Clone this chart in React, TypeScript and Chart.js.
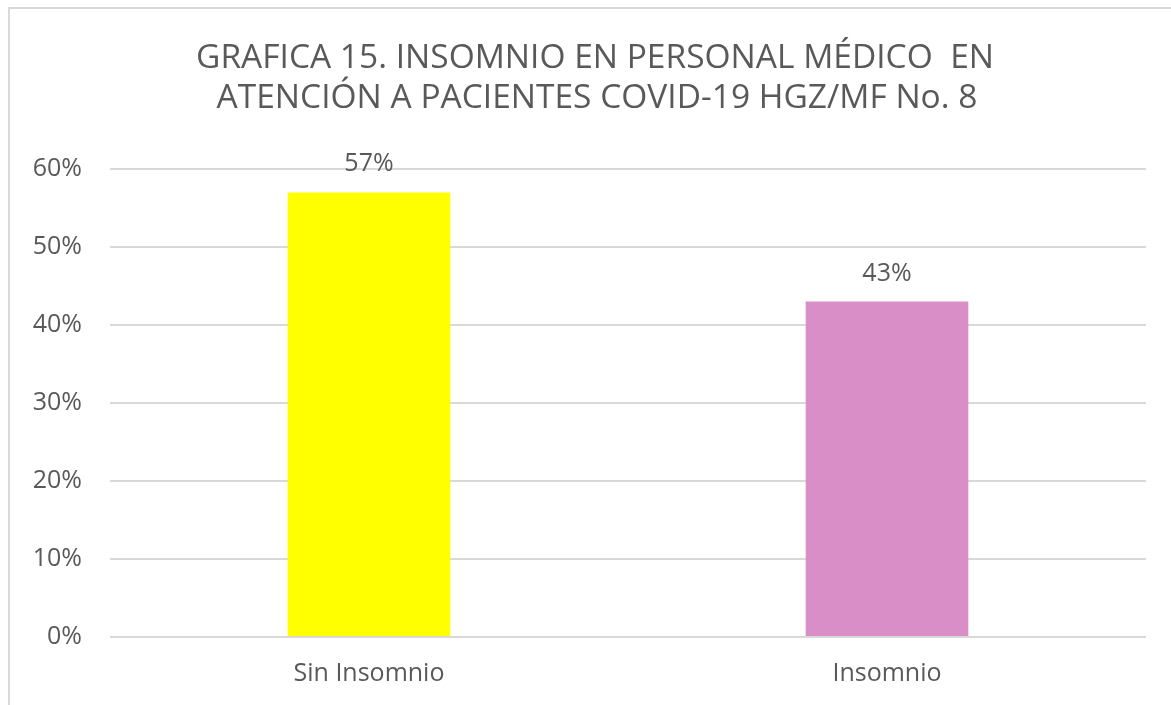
import React, { useEffect, useRef } from 'react';
import { Chart, registerables } from 'chart.js';

Chart.register(...registerables);

const TITLE_LINES = [
  'GRAFICA 15. INSOMNIO EN PERSONAL MÉDICO  EN',
  'ATENCIÓN A PACIENTES COVID-19 HGZ/MF No. 8',
];
const CATEGORIES = ['Sin Insomnio', 'Insomnio'];
const VALUES = [0.57, 0.43];
const BAR_COLORS = ['#FFFF00', '#D98EC8'];
const Y_MIN = 0;
const Y_MAX = 0.6;
const Y_STEP = 0.1;

const FONT = '"Open Sans", "DejaVu Sans", sans-serif';
const TEXT_COLOR = '#595959';
const GRID_COLOR = '#D9D9D9';

const pct = (v: number) => `${Math.round(v * 100)}%`;

const titlePlugin = {
  id: 'customTitle',
  afterDraw(chart: any) {
    const ctx = chart.ctx;
    ctx.save();
    ctx.fillStyle = TEXT_COLOR;
    ctx.font = `33.5px ${FONT}`;
    ctx.textAlign = 'center';
    ctx.textBaseline = 'alphabetic';
    ctx.fillText(TITLE_LINES[0], 595, 68);
    ctx.fillText(TITLE_LINES[1], 597, 108);
    ctx.restore();
  },
};

const valueLabelPlugin = {
  id: 'valueLabels',
  afterDatasetsDraw(chart: any) {
    const ctx = chart.ctx;
    const meta = chart.getDatasetMeta(0);
    const data = chart.data.datasets[0].data as number[];
    ctx.save();
    ctx.fillStyle = TEXT_COLOR;
    ctx.font = `25px ${FONT}`;
    ctx.textAlign = 'center';
    ctx.textBaseline = 'alphabetic';
    meta.data.forEach((bar: any, i: number) => {
      ctx.fillText(pct(data[i]), bar.x, bar.y - 21);
    });
    ctx.restore();
  },
};

export default function App() {
  const canvasRef = useRef<HTMLCanvasElement | null>(null);

  useEffect(() => {
    let chart: Chart | null = null;
    let cancelled = false;
    const create = () => {
      if (cancelled || !canvasRef.current) return;
      chart = new Chart(canvasRef.current, {
        type: 'bar',
        data: {
          labels: CATEGORIES,
          datasets: [
            {
              data: VALUES,
              backgroundColor: BAR_COLORS,
              borderWidth: 0,
              categoryPercentage: 1,
              barPercentage: 0.314,
            },
          ],
        },
        options: {
          animation: false,
          responsive: false,
          maintainAspectRatio: false,
          layout: { padding: { left: 0, right: 25, top: 169, bottom: 0 } },
          plugins: {
            legend: { display: false },
            title: { display: false },
            tooltip: { enabled: false },
          },
          scales: {
            x: {
              grid: { display: false, drawTicks: false },
              border: { display: false },
              ticks: {
                color: TEXT_COLOR,
                font: { family: FONT, size: 25 },
                padding: 22,
              },
              afterFit: (scale: any) => {
                scale.height = 68;
              },
            },
            y: {
              min: Y_MIN,
              max: Y_MAX,
              grid: { color: GRID_COLOR, lineWidth: 2, drawTicks: false },
              border: { display: false },
              ticks: {
                stepSize: Y_STEP,
                color: TEXT_COLOR,
                font: { family: FONT, size: 25 },
                padding: 28,
                callback: (v: any) => pct(Number(v)),
              },
              afterFit: (scale: any) => {
                scale.width = 110;
              },
            },
          },
        },
        plugins: [titlePlugin, valueLabelPlugin],
      });
    };
    if ((document as any).fonts && (document as any).fonts.load) {
      (document as any).fonts
        .load(`25px "Open Sans"`)
        .then(create, create);
    } else {
      create();
    }
    return () => {
      cancelled = true;
      if (chart) chart.destroy();
    };
  }, []);

  return (
    <div
      style={{
        position: 'absolute',
        left: 0,
        top: 0,
        width: 1171,
        height: 705,
        overflow: 'hidden',
        background: '#FFFFFF',
      }}
    >
      <div
        style={{
          position: 'absolute',
          left: 8,
          top: 7,
          width: 1300,
          height: 900,
          borderLeft: `2px solid ${GRID_COLOR}`,
          borderTop: `2px solid ${GRID_COLOR}`,
          boxSizing: 'border-box',
        }}
      />
      <canvas
        ref={canvasRef}
        width={1171}
        height={705}
        style={{ position: 'absolute', left: 0, top: 0, width: 1171, height: 705 }}
      />
    </div>
  );
}
